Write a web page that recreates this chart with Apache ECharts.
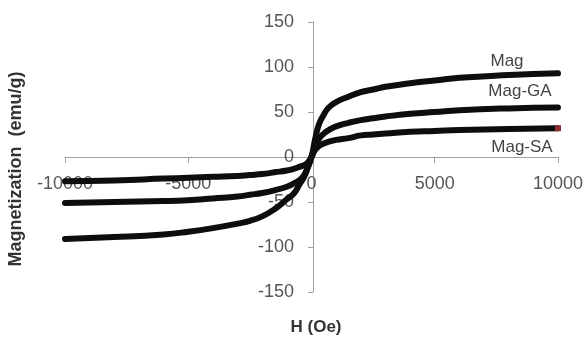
<!DOCTYPE html>
<html>
<head>
<meta charset="utf-8">
<script src="https://cdn.jsdelivr.net/npm/echarts@6/dist/echarts.min.js"></script>
<style>html,body{margin:0;padding:0;background:#fff}#c{width:586px;height:338px}</style>
</head>
<body>
<div id="c"></div>
<script>
const fieldH = [-10000,-8000,-6000,-5000,-4000,-3000,-2500,-2000,-1500,-1000,-700,-500,-300,-150,0,150,300,500,700,1000,1500,2000,2500,3000,4000,5000,6000,8000,10000];
const magValues   = [-91,-89,-86,-83,-79,-74,-71,-66,-58,-47,-40,-31,-22,-12,0,20,36,47,55,61,67,72,75,78,82,85,88,91,93];
const magGAValues = [-51,-50,-49,-48,-46,-44,-42,-40,-37,-33,-29,-26,-20,-11,0,12,20,26,30,34,38,41,43,45,48,50,52,54,55];
const magSAValues = [-27,-26,-24,-23,-22,-21,-20,-19,-17,-15,-13,-11,-9,-6,0,8,12,15,17,19,21,24,25,26,28,29,30,31,32];
const seriesNames = ['Mag','Mag-GA','Mag-SA'];
const xTicks = {min:-10000, max:10000, interval:5000};
const yTicks = {min:-150, max:150, interval:50};

function pairs(vals){ return fieldH.map((h,i)=>[h, vals[i]]); }
const saData = pairs(magSAValues);
saData[saData.length-1] = {value: saData[saData.length-1], symbol:'rect', symbolSize:6, itemStyle:{color:'#8a3030'}};

const FONT = 'Liberation Sans, Arial, sans-serif';
const chart = echarts.init(document.getElementById('c'), null, {renderer:'canvas'});
const lineStyle = {width:6, color:'#0d0d0d', cap:'round', join:'round'};
chart.setOption({
  animation:false,
  backgroundColor:'#fff',
  grid:{left:65, right:24, top:22, bottom:46, containLabel:false},
  xAxis:{
    type:'value', min:xTicks.min, max:xTicks.max, interval:xTicks.interval,
    position:'bottom', offset:-135,
    axisLine:{show:true, onZero:false, lineStyle:{color:'#a0a0a0', width:1}},
    axisTick:{show:true, length:6, lineStyle:{color:'#a0a0a0'}},
    axisLabel:{margin:18, color:'#555', fontSize:18, fontFamily:FONT, formatter:(v)=>String(v)},
    splitLine:{show:false}
  },
  yAxis:{
    type:'value', min:yTicks.min, max:yTicks.max, interval:yTicks.interval,
    position:'left', offset:-248,
    axisLine:{show:true, onZero:false, lineStyle:{color:'#a0a0a0', width:1}},
    axisTick:{show:true, length:5, lineStyle:{color:'#a0a0a0'}},
    axisLabel:{margin:19, color:'#555', fontSize:18, fontFamily:FONT, formatter:(v)=>String(v)},
    splitLine:{show:false}
  },
  series:[
    {name:seriesNames[0], type:'line', data:pairs(magValues), smooth:0.5, showSymbol:false, symbol:'none', lineStyle:lineStyle, z:3},
    {name:seriesNames[1], type:'line', data:pairs(magGAValues), smooth:0.5, showSymbol:false, symbol:'none', lineStyle:lineStyle, z:3},
    {name:seriesNames[2], type:'line', data:saData, smooth:0.5, showSymbol:true, symbol:'none', lineStyle:lineStyle, z:3}
  ],
  graphic:[
    {type:'text', x:16, y:169, rotation:Math.PI/2, style:{text:'Magnetization  (emu/g)', fontSize:18, fontWeight:'bold', fill:'#333', align:'center', verticalAlign:'middle', fontFamily:FONT}},
    {type:'text', x:316, y:327, style:{text:'H (Oe)', fontSize:17, fontWeight:'bold', fill:'#333', align:'center', verticalAlign:'middle', fontFamily:FONT}},
    {type:'text', x:507, y:61, style:{text:seriesNames[0], fontSize:17, fill:'#444', align:'center', verticalAlign:'middle', fontFamily:FONT}},
    {type:'text', x:520, y:91, style:{text:seriesNames[1], fontSize:17, fill:'#444', align:'center', verticalAlign:'middle', fontFamily:FONT}},
    {type:'text', x:522, y:147, style:{text:seriesNames[2], fontSize:17, fill:'#444', align:'center', verticalAlign:'middle', fontFamily:FONT}}
  ]
});
</script>
</body>
</html>
